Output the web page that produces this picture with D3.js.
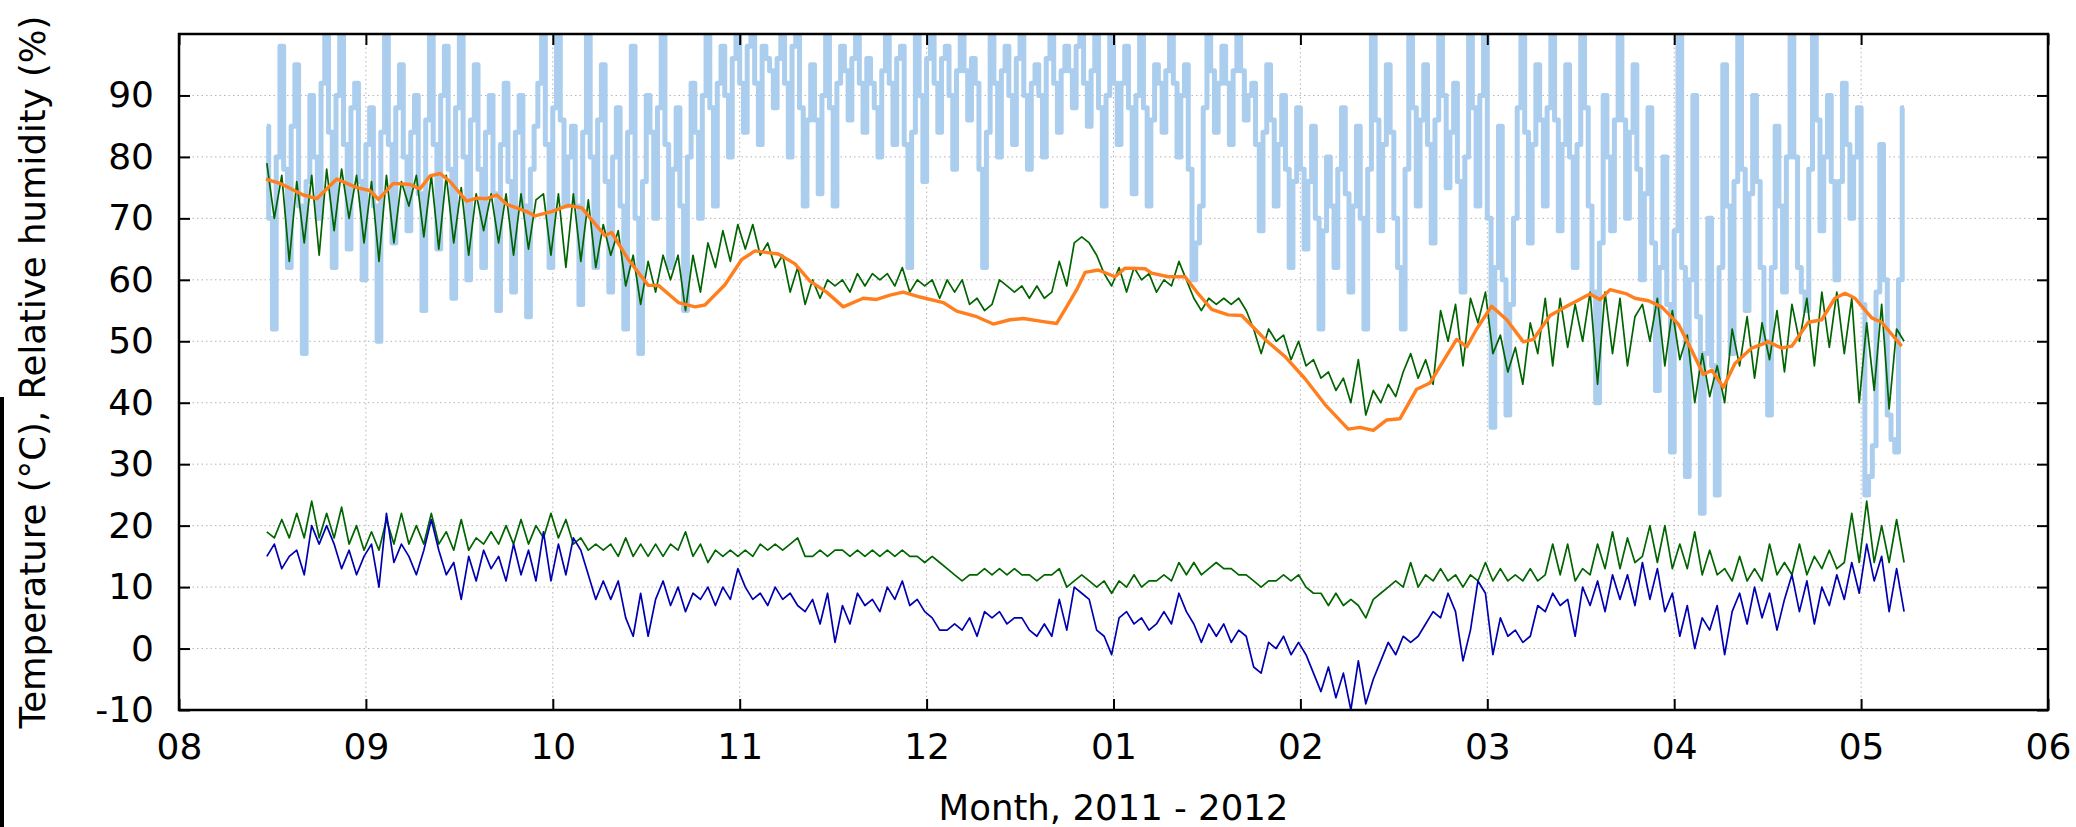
<!DOCTYPE html>
<html>
<head>
<meta charset="utf-8">
<script src="https://cdn.jsdelivr.net/npm/d3@7"></script>
<style>
    body { margin: 0; background: #fff; }
    svg text { font-family: "DejaVu Sans", sans-serif; fill: #000; }
</style>
</head>
<body>
<div id="chart"></div>
<script>

// months on the x axis (0 = Aug 2011 ... 10 = Jun 2012)
let monthLabels = ["08", "09", "10", "11", "12", "01", "02", "03", "04", "05", "06"];
let yTickValues = [-10, 0, 10, 20, 30, 40, 50, 60, 70, 80, 90];

// the noisy series are sampled from sampleStart, every sampleStep months
let sampleStart = 0.47;
let sampleStep = 0.04;

// outdoor relative humidity (%)
let outdoorHumidity = [
    85,52,98,62,95,48,90,70,100,62,100,65,92,60,88,50,100,66,95,68,90,55,100,65,98,57,100,60,95,62,90,55,92,58,90,54,85,
    100,62,100,72,85,56,100,62,95,58,88,52,98,48,90,70,100,62,88,55,92,70,100,72,98,80,100,84,100,82,96,88,100,80,100,72,
    95,74,100,72,98,86,100,84,92,80,100,82,98,62,100,76,100,84,98,78,100,86,92,62,100,80,98,82,100,78,95,80,100,84,98,88,100,
    85,100,72,100,82,98,74,100,72,95,84,100,80,95,60,72,100,84,98,82,100,86,92,68,95,72,90,62,88,65,85,52,80,62,88,58,85,
    52,100,68,95,70,52,100,72,95,66,100,75,92,58,100,72,100,36,85,38,70,100,66,95,72,100,68,95,62,100,72,40,90,68,100,70,95,
    60,88,42,80,32,100,28,90,22,70,25,95,48,100,55,90,62,38,85,58,100,62,55,100,68,90,60,92,70,88,25,33,82,38,32,88
];
// outdoor humidity readings half way between the ones above
let outdoorHumidityHalf = [
    70,80,78,85,72,76,80,92,84,90,82,88,76,82,72,84,82,88,80,84,74,86,82,90,78,88,80,86,78,84,74,82,76,84,72,78,92,
    82,88,86,80,72,84,80,86,76,80,72,84,70,76,84,88,82,78,72,80,84,90,88,92,90,96,92,98,92,98,94,96,92,98,88,86,
    86,90,88,92,94,96,92,96,88,94,92,96,82,84,90,96,92,96,90,94,94,96,78,84,92,94,90,96,90,92,90,96,92,94,94,98,92,
    94,88,90,92,92,88,90,88,86,92,94,92,90,78,66,88,94,92,92,94,94,90,82,84,86,82,78,76,78,76,70,68,72,78,74,72,70,
    78,86,82,84,62,78,88,86,82,86,90,84,76,80,88,90,70,62,60,56,88,84,82,86,88,86,82,80,82,88,58,66,80,86,86,84,78,
    74,66,62,56,68,62,60,54,48,46,62,72,76,78,74,76,50,62,72,80,80,58,78,86,80,76,76,82,80,56,28,58,60,34,60
];

// indoor relative humidity (%)
let indoorHumidity = [
    79,70,77,63,76,66,77,64,78,68,78,70,77,66,76,63,77,66,76,72,77,67,77,65,77,66,75,64,74,68,74,66,74,64,74,65,73,
    74,64,74,62,74,63,73,62,69,64,68,59,64,56,63,58,64,60,64,55,64,58,66,62,68,63,69,65,69,64,66,62,64,58,62,56,
    60,57,60,59,60,58,61,59,61,60,61,59,62,58,60,59,60,57,60,58,60,56,57,55,56,60,59,58,59,57,59,57,58,63,59,66,67,
    66,64,61,59,62,58,62,60,61,58,60,59,63,60,57,55,57,56,57,56,57,55,52,48,52,50,51,47,50,46,47,44,45,42,44,40,47,
    38,42,40,43,41,45,48,44,47,43,55,50,56,46,57,53,58,48,51,45,49,43,53,48,57,46,57,49,56,50,58,43,58,48,57,46,54,
    56,50,57,46,55,47,51,40,48,41,46,40,52,46,54,44,53,47,55,45,56,50,57,46,58,49,58,48,57,40,53,42,56,39,52,50
];

// smoothed indoor humidity, [month, %]
let smoothedHumidity = [
    [0.465,76.4],[0.540,75.7],[0.665,73.8],[0.737,73.2],[0.844,76.4],[0.951,75.0],[1.022,74.5],[1.067,73.1],
    [1.147,75.7],[1.236,75.5],[1.289,74.8],[1.343,76.9],[1.397,77.3],[1.450,76.0],[1.539,72.8],[1.593,73.3],
    [1.646,73.2],[1.700,73.8],[1.753,72.3],[1.860,71.1],[1.905,70.4],
    [1.994,71.1],[2.083,72.1],[2.155,71.7],[2.279,67.2],[2.315,67.7],[2.404,63.3],[2.511,59.1],[2.565,59.1],
    [2.672,56.3],[2.761,55.6],[2.814,55.9],[2.921,59.2],[3.011,63.3],[3.082,64.7],[3.207,64.2],[3.296,62.6],[3.376,59.8],
    [3.465,58.0],[3.554,55.6],[3.661,57.0],[3.733,56.8],[3.804,57.5],[3.875,58.0],[3.965,57.2],[4.089,56.3],
    [4.161,54.9],[4.268,54.0],[4.357,52.8],[4.446,53.5],[4.518,53.7],[4.625,53.2],[4.696,52.9],[4.749,55.6],
    [4.803,58.4],[4.848,61.2],
    [4.919,61.6],[5.008,60.5],[5.062,61.9],[5.169,61.8],[5.204,61.1],[5.293,60.5],[5.383,60.5],[5.454,57.7],
    [5.525,55.2],[5.614,54.3],[5.686,54.2],[5.757,52.0],[5.811,50.3],[5.918,47.5],[6.025,43.9],[6.132,39.7],
    [6.256,35.7],[6.319,36.0],
    [6.390,35.5],[6.462,37.2],[6.533,37.4],[6.622,42.2],[6.693,43.2],[6.765,46.8],[6.836,50.3],[6.890,49.1],
    [6.943,52.0],[7.023,55.7],[7.104,53.5],[7.193,49.9],[7.246,50.3],[7.336,54.2],[7.425,55.7],[7.549,57.7],
    [7.603,56.8],[7.657,58.4],[7.746,57.7],[7.790,57.0],
    [7.862,56.6],[7.933,55.6],[8.022,52.8],[8.094,48.5],[8.156,44.6],[8.201,45.3],[8.263,42.5],[8.325,46.4],
    [8.415,48.9],[8.504,49.9],[8.575,48.9],[8.629,49.2],[8.718,53.1],[8.789,53.5],[8.860,57.0],[8.914,57.8],
    [8.967,57.0],[9.057,53.8],[9.110,53.1],[9.217,49.2]
];

// indoor temperature (°C)
let indoorTemp = [
    19,18,21,18,22,18,24,18,22,18,23,17,20,16,19,16,21,17,22,17,20,17,22,17,19,16,21,16,18,17,19,17,20,17,21,17,20,
    18,22,18,21,17,18,16,17,16,17,15,18,15,17,15,17,15,17,16,19,15,17,14,16,15,16,15,16,15,17,16,17,16,17,18,15,
    15,16,15,16,16,15,16,15,16,15,16,15,16,15,15,14,15,14,13,12,11,12,12,13,12,13,12,13,12,12,11,12,12,13,10,11,12,
    11,10,11,9,11,10,12,10,11,11,12,11,14,12,14,12,13,14,13,13,12,12,11,10,11,11,12,11,12,10,9,9,7,9,7,8,7,
    5,8,9,10,11,10,14,10,12,11,13,11,12,10,12,11,14,11,13,11,12,11,13,11,12,17,12,17,11,13,12,17,13,19,13,18,14,
    15,20,14,20,13,17,13,19,12,16,12,13,11,15,11,13,11,17,12,14,12,17,12,15,13,16,13,14,22,14,24,14,20,14,21,14
];

// outdoor temperature (°C)
let outdoorTemp = [
    15,17,13,15,16,12,20,17,20,17,13,16,12,15,17,10,22,14,17,15,12,16,21,16,12,14,8,15,11,16,13,15,11,17,12,16,11,
    19,11,17,12,18,16,12,8,11,8,11,5,2,9,2,8,11,7,10,6,9,8,10,7,10,8,13,10,8,9,7,10,8,9,7,6,
    8,4,9,1,7,4,9,7,8,6,10,8,11,7,8,6,5,3,3,4,3,5,2,6,5,6,4,5,5,3,2,4,2,8,3,10,9,
    8,3,2,-1,5,6,4,5,3,4,6,4,9,6,4,1,4,2,4,1,3,2,-3,-4,1,0,2,-1,1,-1,-4,-7,-3,-8,-4,-10,-2,
    -9,-5,-2,1,-1,2,1,2,4,6,5,9,6,-2,3,11,9,-1,5,2,3,1,2,7,6,9,7,8,2,10,7,11,6,12,8,12,7,
    14,8,13,6,9,2,7,0,5,3,7,-1,6,9,4,10,5,9,3,8,12,6,11,4,10,7,12,8,14,9,17,11,15,6,13,6
];


class ClimateChart {

    constructor(parentElement) {
        this.parentElement = parentElement;
        this.initVis();
    }

    initVis() {
        let vis = this;

        vis.margin = {top: 34, right: 28, bottom: 117, left: 179};
        vis.fullWidth = 2076;
        vis.fullHeight = 827;
        vis.width = vis.fullWidth - vis.margin.left - vis.margin.right;
        vis.height = vis.fullHeight - vis.margin.top - vis.margin.bottom;

        vis.svg = d3.select("#" + vis.parentElement).append("svg")
            .attr("width", vis.fullWidth)
            .attr("height", vis.fullHeight);

        // stray black bar on the left edge of the original image
        vis.svg.append("rect")
            .attr("x", 0).attr("y", 397)
            .attr("width", 4).attr("height", 430)
            .attr("fill", "#000");

        vis.g = vis.svg.append("g")
            .attr("transform", `translate(${vis.margin.left}, ${vis.margin.top})`);

        vis.x = d3.scaleLinear().domain([0, 10]).range([0, vis.width]);
        vis.y = d3.scaleLinear().domain([-10, 100]).range([vis.height, 0]);

        vis.g.append("clipPath").attr("id", "plotClip")
            .append("rect").attr("width", vis.width).attr("height", vis.height);

        // dotted grid
        let grid = vis.g.append("g").attr("class", "grid")
            .attr("stroke", "#b4b4b4").attr("stroke-width", 1).attr("stroke-dasharray", "1.5,3");
        grid.selectAll(".hgrid").data(yTickValues.slice(1))
            .enter().append("line")
            .attr("x1", 0).attr("x2", vis.width)
            .attr("y1", d => vis.y(d)).attr("y2", d => vis.y(d));
        grid.selectAll(".vgrid").data(d3.range(1, monthLabels.length - 1))
            .enter().append("line")
            .attr("y1", 0).attr("y2", vis.height)
            .attr("x1", d => vis.x(d)).attr("x2", d => vis.x(d));

        this.updateVis();
    }

    updateVis() {
        let vis = this;

        let sampled = (arr, offset = 0) => arr.map((v, i) => [sampleStart + offset + i * sampleStep, v]);

        // daily readings plus the half-step readings, in time order
        let outdoorHum = sampled(outdoorHumidity)
            .concat(sampled(outdoorHumidityHalf, sampleStep / 2))
            .sort((a, b) => a[0] - b[0]);

        let line = d3.line()
            .x(d => vis.x(d[0]))
            .y(d => vis.y(d[1]));

        // the hourly outdoor readings look like a solid band of vertical strokes
        let stepLine = d3.line()
            .curve(d3.curveStep)
            .x(d => vis.x(d[0]))
            .y(d => vis.y(d[1]));

        let series = [
            {data: outdoorHum, color: "#abcdee", width: 5, gen: stepLine},
            {data: sampled(indoorHumidity), color: "#006400", width: 1.7, gen: line},
            {data: smoothedHumidity, color: "#ff7f1e", width: 3.4, gen: line},
            {data: sampled(indoorTemp), color: "#006400", width: 1.7, gen: line},
            {data: sampled(outdoorTemp), color: "#0000b0", width: 1.7, gen: line}
        ];

        let lines = vis.g.append("g").attr("clip-path", "url(#plotClip)");
        lines.selectAll("path").data(series)
            .enter().append("path")
            .attr("fill", "none")
            .attr("stroke", d => d.color)
            .attr("stroke-width", d => d.width)
            .attr("stroke-linejoin", "round")
            .attr("d", d => d.gen(d.data));

        // axes with inward ticks on all four sides
        let styleAxis = g => {
            g.select(".domain").remove();
            g.selectAll(".tick line").attr("stroke", "#000").attr("stroke-width", 2);
            g.selectAll(".tick text").attr("font-size", 36).attr("fill", "#000")
                .attr("font-family", "DejaVu Sans, sans-serif");
        };

        vis.g.append("g")
            .attr("transform", `translate(0, ${vis.height})`)
            .call(d3.axisBottom(vis.x).tickValues(d3.range(0, 11)).tickSize(-11).tickPadding(23)
                .tickFormat(d => monthLabels[d]))
            .call(styleAxis);

        vis.g.append("g")
            .call(d3.axisTop(vis.x).tickValues(d3.range(0, 11)).tickSize(-11).tickFormat(""))
            .call(styleAxis);

        vis.g.append("g")
            .call(d3.axisLeft(vis.y).tickValues(yTickValues).tickSize(-11).tickPadding(25)
                .tickFormat(d => String(d)))
            .call(styleAxis);

        vis.g.append("g")
            .attr("transform", `translate(${vis.width}, 0)`)
            .call(d3.axisRight(vis.y).tickValues(yTickValues).tickSize(-11).tickFormat(""))
            .call(styleAxis);

        // frame
        vis.g.append("rect")
            .attr("width", vis.width).attr("height", vis.height)
            .attr("fill", "none").attr("stroke", "#000").attr("stroke-width", 2.5);

        // axis titles
        vis.svg.append("text")
            .attr("x", vis.margin.left + vis.width / 2)
            .attr("y", 820)
            .attr("text-anchor", "middle")
            .attr("font-size", 35.5)
            .text("Month, 2011 - 2012");

        vis.svg.append("text")
            .attr("transform", `translate(45, ${vis.margin.top + vis.height / 2}) rotate(-90)`)
            .attr("text-anchor", "middle")
            .attr("font-size", 35.5)
            .text("Temperature (°C), Relative humidity (%)");
    }
}

new ClimateChart("chart");

</script>
</body>
</html>
